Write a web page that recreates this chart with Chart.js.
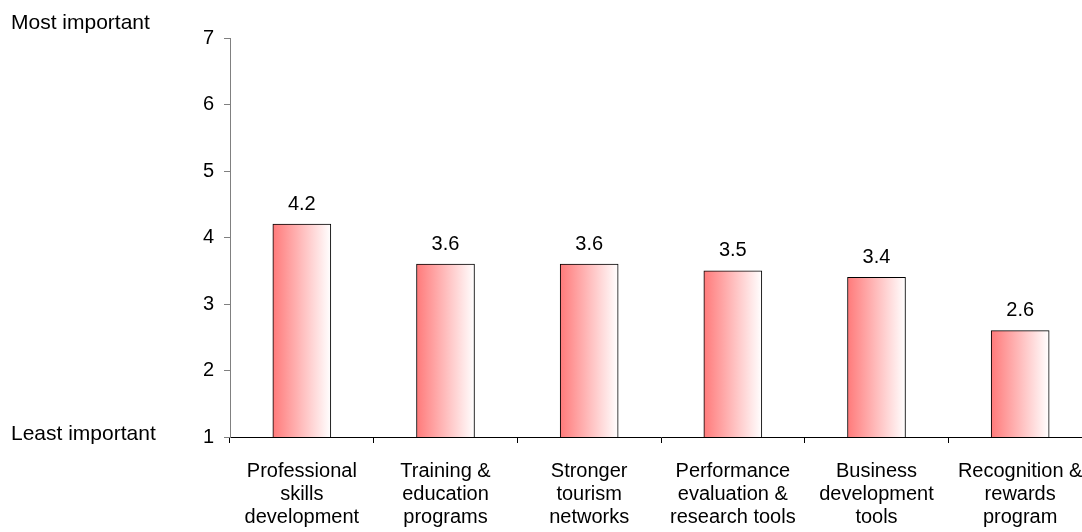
<!DOCTYPE html>
<html><head><meta charset="utf-8">
<script src="https://cdn.jsdelivr.net/npm/chart.js@4/dist/chart.umd.min.js"></script>
<style>html,body{margin:0;padding:0;background:#fff;overflow:hidden}#wrap{width:1082px;height:532px;overflow:hidden}</style>
</head><body><div id="wrap"><canvas id="c" width="1092" height="532"></canvas></div>
<script>
const categories = [
  ["Professional","skills","development"],
  ["Training &","education","programs"],
  ["Stronger","tourism","networks"],
  ["Performance","evaluation &","research tools"],
  ["Business","development","tools"],
  ["Recognition &","rewards","program"]
];
const values = [4.2, 3.6, 3.6, 3.5, 3.4, 2.6];
const yTicks = [1, 2, 3, 4, 5, 6, 7];
const topLabel = "Most important";
const bottomLabel = "Least important";

const FONT = "'Liberation Sans', Arial, sans-serif";
const BAR_W = 58;

function gradFill(ctx) {
  const chart = ctx.chart;
  const xs = chart.scales.x;
  if (!xs || !chart.chartArea) return '#ff8080';
  const cx = xs.getPixelForValue(ctx.dataIndex);
  const g = chart.ctx.createLinearGradient(cx - BAR_W / 2, 0, cx + BAR_W / 2, 0);
  g.addColorStop(0, 'rgb(255,122,122)');
  g.addColorStop(1, 'rgb(255,255,255)');
  return g;
}

const extras = {
  id: 'extras',
  afterDatasetsDraw(chart) {
    const c = chart.ctx;
    const meta = chart.getDatasetMeta(0);
    c.save();
    c.font = "20px " + FONT;
    c.fillStyle = '#000';
    c.textAlign = 'center';
    c.textBaseline = 'middle';
    meta.data.forEach((bar, i) => {
      c.fillText(values[i].toFixed(1), bar.x, bar.y - 20);
    });
    c.font = "21px " + FONT;
    c.textAlign = 'left';
    c.fillText(topLabel, 11, 23);
    c.fillText(bottomLabel, 11, 434);
    c.restore();
  }
};

new Chart(document.getElementById('c'), {
  type: 'bar',
  data: {
    labels: categories,
    datasets: [{
      data: values,
      backgroundColor: gradFill,
      borderColor: '#000',
      borderWidth: {top: 1, left: 1, right: 1, bottom: 0},
      borderSkipped: false,
      barThickness: BAR_W
    }]
  },
  options: {
    responsive: false,
    animation: false,
    layout: {padding: {top: 38, right: 0, left: 0, bottom: 0}},
    plugins: {legend: {display: false}, tooltip: {enabled: false}},
    scales: {
      x: {
        grid: {drawOnChartArea: false, drawTicks: true, tickLength: 6, color: '#000', offset: true},
        border: {color: '#000', width: 1},
        ticks: {color: '#000', font: {family: FONT, size: 20, lineHeight: 1.15}, padding: 17, maxRotation: 0, autoSkip: false},
        afterFit(s) { s.height = 95; s.paddingLeft = 0; s.paddingRight = 0; }
      },
      y: {
        min: 1, max: 7,
        afterBuildTicks(s) { s.ticks = yTicks.map(v => ({value: v})); },
        grid: {drawOnChartArea: false, drawTicks: true, tickLength: 6, color: '#808080'},
        border: {color: '#808080', width: 1},
        ticks: {color: '#000', font: {family: FONT, size: 20}, padding: 10},
        afterFit(s) { s.width = 230; }
      }
    }
  },
  plugins: [extras]
});
</script></body></html>
